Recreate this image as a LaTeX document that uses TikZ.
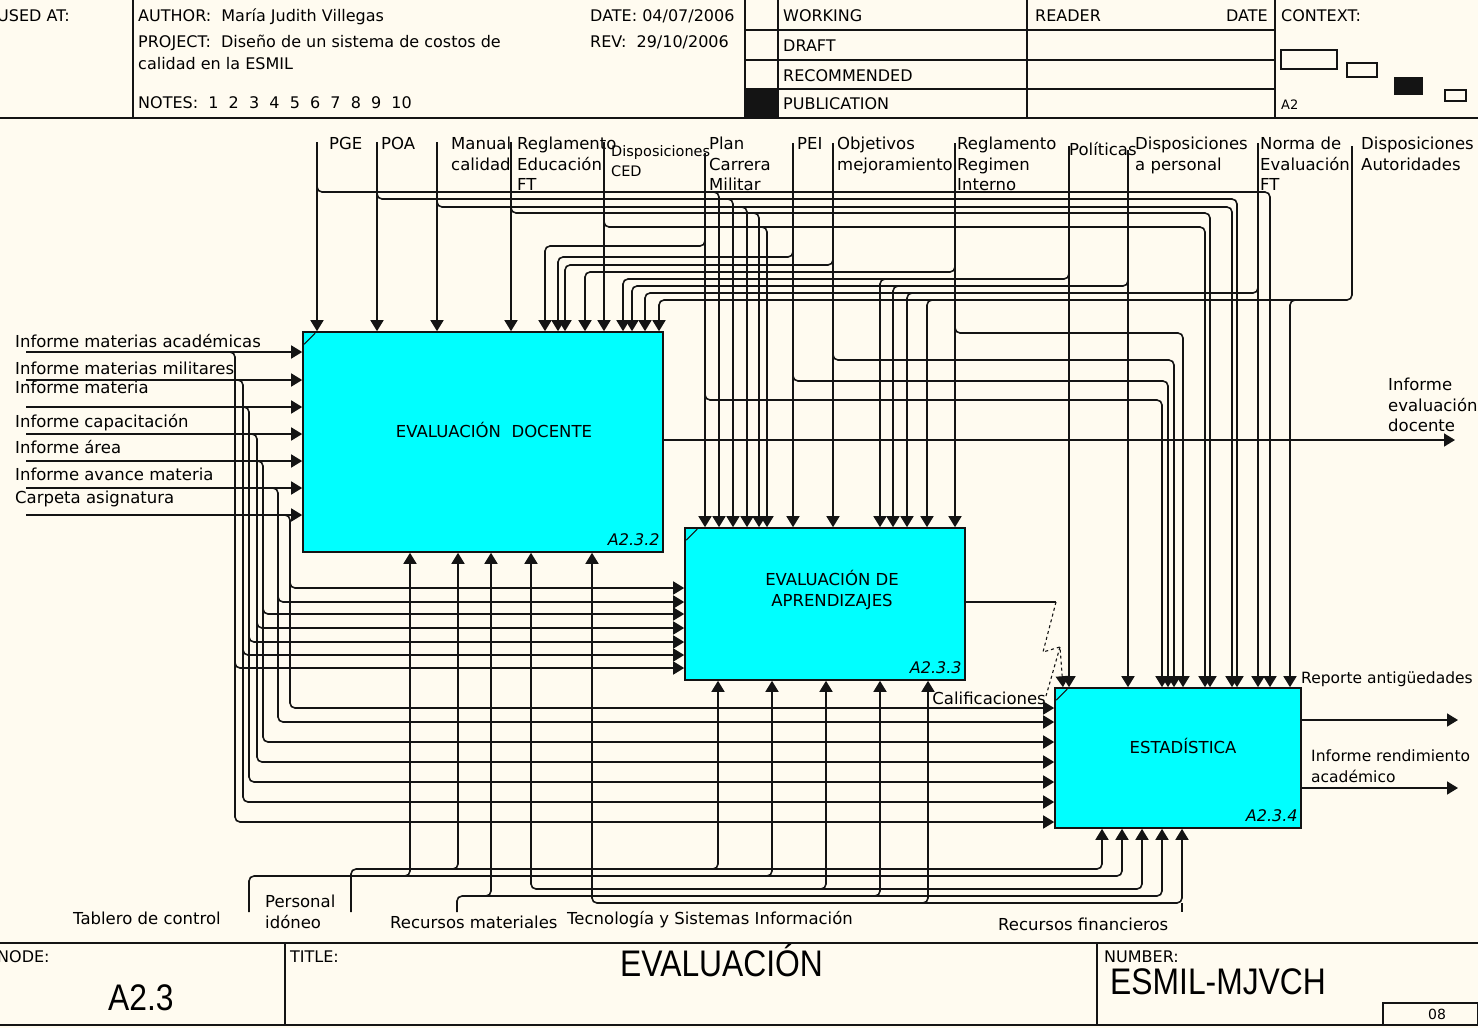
\documentclass[tikz,border=0pt]{standalone}
\usepackage{fontspec}
\setmainfont{DejaVu Sans}
\newfontfamily\titlefont{Liberation Sans}
\usepackage{xcolor}
\usepackage{graphicx}
\usepackage{tikz}
\usetikzlibrary{arrows.meta, calc}
\definecolor{idBack}{RGB}{255,251,240}
\definecolor{idBox}{RGB}{0,255,255}
\definecolor{idInk}{RGB}{20,20,20}
\newcommand{\narrowtext}[1]{\scalebox{0.86}[1]{#1}}

\begin{document}
\begin{tikzpicture}[x=1pt,y=-1pt,
  font=\fontsize{16.5}{20.5}\selectfont,
  frameline/.style={draw=idInk,line width=1.3pt},
  heavyline/.style={draw=idInk,line width=2.4pt},
  hdr/.style={anchor=base west,inner sep=0pt,font=\fontsize{16}{20}\selectfont},
  big/.style={anchor=base west,inner sep=0pt,font=\titlefont\fontsize{37}{40}\selectfont},
  act/.style={draw=idInk,line width=1.6pt,fill=idBox,inner sep=0pt},
  actname/.style={align=center,inner sep=0pt},
  anum/.style={anchor=south east,inner sep=0pt,font=\fontsize{16}{18}\selectfont\itshape},
  lbl/.style={inner sep=0pt,align=left},
  arr/.style={-{Triangle[length=11pt,width=13pt]},line width=1.6pt,draw=idInk},
  arrb/.style={arr,{Triangle[length=11pt,width=13pt]}-{Triangle[length=11pt,width=13pt]}},
  rnd/.style={rounded corners=5pt},
  squig/.style={draw=idInk,dashed,line width=1.1pt}]

% Background and page size
\fill[idBack] (0,0) rectangle (1478,1028);
\useasboundingbox (0,0) rectangle (1478,1028);

% Header form
\draw[heavyline] (0,118) -- (1478,118);
\foreach \x in {133,745,778,1027,1275}
  \draw[frameline] (\x,0) -- (\x,118);
\foreach \y in {30,60,89}
  \draw[frameline] (745,\y) -- (1275,\y);
\fill[idInk] (745,89) rectangle (778,118);
\node[hdr] (usedat) at (-3,21) {USED AT:};
\node[hdr] (author) at (138,21) {AUTHOR:\ \ María Judith Villegas};
\node[hdr] (project) at (138,47) {PROJECT:\ \ Diseño de un sistema de costos de};
\node[hdr] (project2) at (138,69) {calidad en la ESMIL};
\node[hdr] (notes) at (138,108) {NOTES:\ \ 1\ \ 2\ \ 3\ \ 4\ \ 5\ \ 6\ \ 7\ \ 8\ \ 9\ \ 10};
\node[hdr] (date) at (590,21) {DATE: 04/07/2006};
\node[hdr] (rev) at (590,47) {REV:\ \ 29/10/2006};
\foreach \y/\txt [count=\i] in {21/WORKING, 51/DRAFT, 81/RECOMMENDED, 109/PUBLICATION}
  \node[hdr] (stat\i) at (783,\y) {\txt};
\node[hdr] (reader) at (1035,21) {READER};
\node[hdr,anchor=base east] (rdate) at (1268,21) {DATE};
\node[hdr] (context) at (1281,21) {CONTEXT:};
\node[hdr,font=\fontsize{13}{15}\selectfont] (ctxnode) at (1281,109) {A2};
\draw[frameline] (1281,50) rectangle (1337,69);
\draw[frameline] (1347,63) rectangle (1377,77);
\fill[idInk] (1394,77) rectangle (1423,95);
\draw[frameline] (1445,90) rectangle (1466,101);

% Footer form
\draw[heavyline] (0,943) -- (1478,943);
\draw[heavyline] (0,1025) -- (1478,1025);
\foreach \x in {285,1097}
  \draw[frameline] (\x,943) -- (\x,1025);
\draw[frameline] (1383,1003) rectangle (1478,1025);
\node[hdr] (nodelbl) at (-3,962) {NODE:};
\node[big] (nodenum) at (108,1010) {\narrowtext{A2.3}};
\node[hdr] (titlelbl) at (290,962) {TITLE:};
\node[big] (title) at (620,976) {\narrowtext{EVALUACIÓN}};
\node[hdr] (numlbl) at (1104,962) {NUMBER:};
\node[big] (number) at (1110,994) {\narrowtext{ESMIL-MJVCH}};
\node[font=\fontsize{14}{16}\selectfont,inner sep=0pt] (page) at (1437,1014) {08};

% Activities
\node[act,minimum width=360pt,minimum height=220pt] (ed) at (483,442) {};
\node[act,minimum width=280pt,minimum height=152pt] (ea) at (825,604) {};
\node[act,minimum width=246pt,minimum height=140pt] (es) at (1178,758) {};
\node[actname] (edname) at ($(ed.center)+(11,-12)$) {EVALUACIÓN\ \ DOCENTE};
\node[actname] (eaname) at ($(ea.center)+(7,-14)$) {EVALUACIÓN DE\\APRENDIZAJES};
\node[actname] (esname) at ($(es.center)+(5,-12)$) {ESTADÍSTICA};
\foreach \act/\code in {ed/A2.3.2, ea/A2.3.3, es/A2.3.4}{
  \node[anum] (\act-num) at ($(\act.south east)+(-4,-7)$) {\code};
  \draw[line width=1pt,draw=idInk] ($(\act.north west)+(2,13)$) -- ++(11,-11);
}

% Arrow labels: controls
\foreach \x/\y/\txt [count=\i] in {329/137/PGE, 381/137/POA, 451/137/{Manual\\calidad},
    517/137/{Reglamento\\Educación\\FT}, 709/137/{Plan\\Carrera\\Militar},
    797/137/PEI, 837/137/{Objetivos\\mejoramiento},
    957/137/{Reglamento\\Regimen\\Interno}, 1069/142/Políticas,
    1135/137/{Disposiciones\\a personal}, 1260/137/{Norma de\\Evaluación\\FT},
    1361/137/{Disposiciones\\Autoridades}}
  \node[lbl,anchor=north west] (ctl\i) at (\x,\y) {\txt};
\node[lbl,anchor=north west,font=\fontsize{14.5}{20}\selectfont] (ctlced) at (611,145) {Disposiciones\\CED};

% Arrow labels: inputs, outputs, mechanisms
\foreach \y/\txt [count=\i] in {347/Informe materias académicas, 374/Informe materias militares,
    393/Informe materia, 427/Informe capacitación, 453/Informe área,
    480/Informe avance materia, 503/Carpeta asignatura}
  \node[lbl,anchor=base west] (inp\i) at (15,\y) {\txt};
\node[lbl,anchor=north west] (out1) at (1388,378) {Informe\\evaluación\\docente};
\node[lbl,anchor=base west,font=\fontsize{15.5}{19}\selectfont] (out2) at (1301,683) {Reporte antigüedades};
\node[lbl,anchor=north west,font=\fontsize{15.5}{21}\selectfont] (out3) at (1311,750) {Informe rendimiento\\académico};
\node[lbl,anchor=base east] (calif) at (1046,704) {Calificaciones};
\node[lbl,anchor=base west] (mec1) at (73,924) {Tablero de control};
\node[lbl,anchor=north west] (mec2) at (265,895) {Personal\\idóneo};
\node[lbl,anchor=base west] (mec3) at (390,928) {Recursos materiales};
\node[lbl,anchor=base west] (mec4) at (567,924) {Tecnología y Sistemas Información};
\node[lbl,anchor=base west] (mec5) at (998,930) {Recursos financieros};

% Inputs of EVALUACIÓN DOCENTE, branched on to the two other activities
\foreach \y/\bx/\ya/\yb in {352/235/668/822, 380/243/655/802, 407/249/642/782,
    434/257/628/762, 461/263/614/742, 488/278/602/722, 515/290/588/708}{
  \draw[arr] (26,\y) -- (ed.west |- 0,\y);
  \draw[arr,rnd] (\bx-10,\y) -- (\bx,\y) -- (\bx,\ya) -- (ea.west |- 0,\ya);
  \draw[arr,rnd] (\bx,\ya-10) -- (\bx,\yb) -- (es.west |- 0,\yb);
}

% Controls from the left part of the top edge
\foreach \x/\yb/\xa/\xc in {317/192/719/1270, 377/199/733/1237, 437/207/747/1232,
    511/213/759/1210, 604/227/767/1205}{
  \draw[arr] (\x,142) -- (ed.north -| \x,0);
  \draw[arr,rnd] (\x,\yb-10) -- (\x,\yb) -- (\xa,\yb) -- (ea.north -| \xa,0);
  \draw[arr,rnd] (\xa-10,\yb) -- (\xc,\yb) -- (es.north -| \xc,0);
}

% Controls from the middle of the top edge
\foreach \x/\ys/\ya/\xa/\yc/\xc in {705/153/246/545/400/1162, 793/143/257/558/381/1168,
    833/143/265/565/360/1174, 955/143/272/585/333/1183}{
  \draw[arr] (\x,\ys) -- (ea.north -| \x,0);
  \draw[arr,rnd] (\x,\ya-10) -- (\x,\ya) -- (\xa,\ya) -- (ed.north -| \xa,0);
  \draw[arr,rnd] (\x,\yc-10) -- (\x,\yc) -- (\xc,\yc) -- (es.north -| \xc,0);
}

% Controls from the right part of the top edge
\foreach \x/\ys/\ya/\xb/\xa in {1069/146/279/880/623, 1128/150/286/893/632, 1258/143/293/907/645}{
  \draw[arr] (\x,\ys) -- (es.north -| \x,0);
  \draw[arr,rnd] (\x,\ya-10) -- (\x,\ya) -- (\xa,\ya) -- (ed.north -| \xa,0);
  \draw[arr,rnd] (\xb+10,\ya) -- (\xb,\ya) -- (ea.north -| \xb,0);
}
\draw[arr,rnd] (1352,146) -- (1352,300) -- (659,300) -- (ed.north -| 659,0);
\draw[arr,rnd] (937,300) -- (927,300) -- (ea.north -| 927,0);
\draw[arr,rnd] (1300,300) -- (1290,300) -- (es.north -| 1290,0);

% Outputs
\draw[arr] (ed.east |- 0,440) -- (1455,440);
\draw[arr] (es.east |- 0,720) -- (1458,720);
\draw[arr] (es.east |- 0,788) -- (1458,788);
\draw[line width=1.6pt,draw=idInk] (ea.east |- 0,602) -- (1056,602);
\draw[arr,squig] (1056,602) -- (1043,652) -- (1060,647) -- (es.north -| 1063,0);
\draw[squig] (1060,647) -- (1046,696);

% Mechanisms
\draw[arr,rnd] (351,912) -- (351,869) -- (1102,869) -- (es.south -| 1102,0);
\draw[arr,rnd] (249,912) -- (249,876) -- (1122,876) -- (es.south -| 1122,0);
\draw[arrb,rnd] (ed.south -| 531,0) -- (531,889) -- (1142,889) -- (es.south -| 1142,0);
\draw[arr,rnd] (457,912) -- (457,896) -- (1162,896) -- (es.south -| 1162,0);
\draw[arrb,rnd] (ed.south -| 592,0) -- (592,903) -- (1182,903) -- (es.south -| 1182,0);
\draw[line width=1.6pt,draw=idInk] (1182,903) -- (1182,912);
\foreach \x/\y/\act in {410/876/ed, 458/869/ed, 491/896/ed, 718/869/ea,
    772/876/ea, 826/889/ea, 880/896/ea, 928/903/ea}
  \draw[arr,rnd] (\x-10,\y) -- (\x,\y) -- (\act.south -| \x,0);
\end{tikzpicture}
\end{document}
